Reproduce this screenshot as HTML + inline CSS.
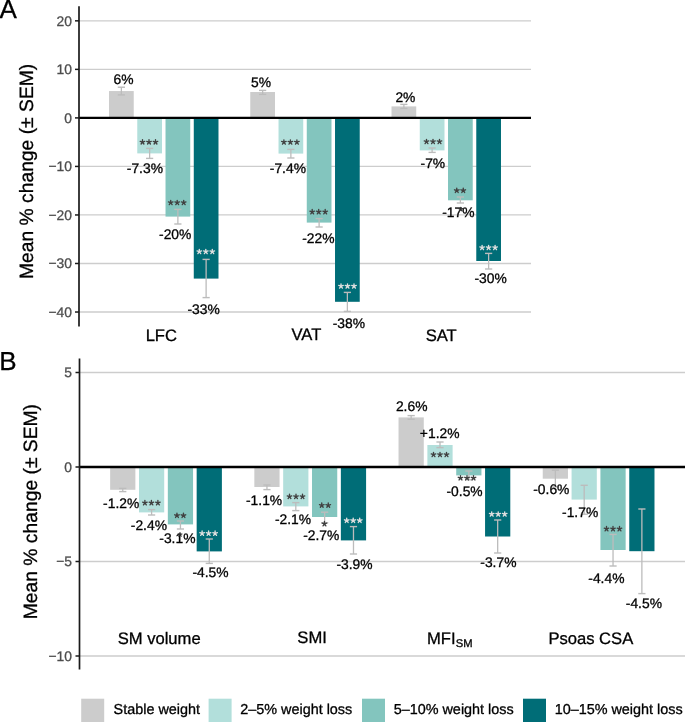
<!DOCTYPE html>
<html><head><meta charset="utf-8"><style>
html,body{margin:0;padding:0;background:#ffffff;}
svg{display:block;}
text{font-family:"Liberation Sans",sans-serif;text-rendering:geometricPrecision;}
svg{will-change:transform;}
</style></head><body>
<svg width="685" height="722" viewBox="0 0 685 722">
<rect x="0" y="0" width="685" height="722" fill="#ffffff"/>
<line x1="79.00" y1="20.84" x2="531.00" y2="20.84" stroke="#cdcdcd" stroke-width="1.3"/>
<line x1="79.00" y1="69.37" x2="531.00" y2="69.37" stroke="#cdcdcd" stroke-width="1.3"/>
<line x1="79.00" y1="166.43" x2="531.00" y2="166.43" stroke="#cdcdcd" stroke-width="1.3"/>
<line x1="79.00" y1="214.96" x2="531.00" y2="214.96" stroke="#cdcdcd" stroke-width="1.3"/>
<line x1="79.00" y1="263.49" x2="531.00" y2="263.49" stroke="#cdcdcd" stroke-width="1.3"/>
<line x1="79.00" y1="312.02" x2="531.00" y2="312.02" stroke="#cdcdcd" stroke-width="1.3"/>
<rect x="109.02" y="91.06" width="24.72" height="26.84" fill="#cccccc"/>
<rect x="137.27" y="117.90" width="24.72" height="35.50" fill="#b2dfdb"/>
<rect x="165.52" y="117.90" width="24.72" height="98.70" fill="#83c5be"/>
<rect x="193.77" y="117.90" width="24.72" height="160.70" fill="#006d77"/>
<rect x="250.27" y="92.00" width="24.72" height="25.90" fill="#cccccc"/>
<rect x="278.52" y="117.90" width="24.72" height="35.70" fill="#b2dfdb"/>
<rect x="306.77" y="117.90" width="24.72" height="104.70" fill="#83c5be"/>
<rect x="335.02" y="117.90" width="24.72" height="183.90" fill="#006d77"/>
<rect x="391.52" y="106.40" width="24.72" height="11.50" fill="#cccccc"/>
<rect x="419.77" y="117.90" width="24.72" height="32.50" fill="#b2dfdb"/>
<rect x="448.02" y="117.90" width="24.72" height="82.40" fill="#83c5be"/>
<rect x="476.27" y="117.90" width="24.72" height="143.10" fill="#006d77"/>
<line x1="121.38" y1="87.20" x2="121.38" y2="94.90" stroke="#bcbcbc" stroke-width="1.3"/>
<line x1="117.78" y1="87.20" x2="124.97" y2="87.20" stroke="#bcbcbc" stroke-width="1.4"/>
<line x1="117.78" y1="94.90" x2="124.97" y2="94.90" stroke="#bcbcbc" stroke-width="1.4"/>
<line x1="149.62" y1="148.40" x2="149.62" y2="158.40" stroke="#bcbcbc" stroke-width="1.3"/>
<line x1="146.03" y1="148.40" x2="153.22" y2="148.40" stroke="#bcbcbc" stroke-width="1.4"/>
<line x1="146.03" y1="158.40" x2="153.22" y2="158.40" stroke="#bcbcbc" stroke-width="1.4"/>
<line x1="177.88" y1="209.40" x2="177.88" y2="224.00" stroke="#bcbcbc" stroke-width="1.3"/>
<line x1="174.28" y1="209.40" x2="181.47" y2="209.40" stroke="#bcbcbc" stroke-width="1.4"/>
<line x1="174.28" y1="224.00" x2="181.47" y2="224.00" stroke="#bcbcbc" stroke-width="1.4"/>
<line x1="206.12" y1="259.40" x2="206.12" y2="297.60" stroke="#bcbcbc" stroke-width="1.3"/>
<line x1="202.53" y1="259.40" x2="209.72" y2="259.40" stroke="#bcbcbc" stroke-width="1.4"/>
<line x1="202.53" y1="297.60" x2="209.72" y2="297.60" stroke="#bcbcbc" stroke-width="1.4"/>
<line x1="262.62" y1="90.40" x2="262.62" y2="94.40" stroke="#bcbcbc" stroke-width="1.3"/>
<line x1="259.02" y1="90.40" x2="266.23" y2="90.40" stroke="#bcbcbc" stroke-width="1.4"/>
<line x1="259.02" y1="94.40" x2="266.23" y2="94.40" stroke="#bcbcbc" stroke-width="1.4"/>
<line x1="290.88" y1="149.40" x2="290.88" y2="158.00" stroke="#bcbcbc" stroke-width="1.3"/>
<line x1="287.27" y1="149.40" x2="294.48" y2="149.40" stroke="#bcbcbc" stroke-width="1.4"/>
<line x1="287.27" y1="158.00" x2="294.48" y2="158.00" stroke="#bcbcbc" stroke-width="1.4"/>
<line x1="319.12" y1="218.60" x2="319.12" y2="227.00" stroke="#bcbcbc" stroke-width="1.3"/>
<line x1="315.52" y1="218.60" x2="322.73" y2="218.60" stroke="#bcbcbc" stroke-width="1.4"/>
<line x1="315.52" y1="227.00" x2="322.73" y2="227.00" stroke="#bcbcbc" stroke-width="1.4"/>
<line x1="347.38" y1="292.40" x2="347.38" y2="311.40" stroke="#bcbcbc" stroke-width="1.3"/>
<line x1="343.77" y1="292.40" x2="350.98" y2="292.40" stroke="#bcbcbc" stroke-width="1.4"/>
<line x1="343.77" y1="311.40" x2="350.98" y2="311.40" stroke="#bcbcbc" stroke-width="1.4"/>
<line x1="403.88" y1="104.40" x2="403.88" y2="108.40" stroke="#bcbcbc" stroke-width="1.3"/>
<line x1="400.27" y1="104.40" x2="407.48" y2="104.40" stroke="#bcbcbc" stroke-width="1.4"/>
<line x1="400.27" y1="108.40" x2="407.48" y2="108.40" stroke="#bcbcbc" stroke-width="1.4"/>
<line x1="432.12" y1="148.00" x2="432.12" y2="152.40" stroke="#bcbcbc" stroke-width="1.3"/>
<line x1="428.52" y1="148.00" x2="435.73" y2="148.00" stroke="#bcbcbc" stroke-width="1.4"/>
<line x1="428.52" y1="152.40" x2="435.73" y2="152.40" stroke="#bcbcbc" stroke-width="1.4"/>
<line x1="460.38" y1="197.00" x2="460.38" y2="203.00" stroke="#bcbcbc" stroke-width="1.3"/>
<line x1="456.77" y1="197.00" x2="463.98" y2="197.00" stroke="#bcbcbc" stroke-width="1.4"/>
<line x1="456.77" y1="203.00" x2="463.98" y2="203.00" stroke="#bcbcbc" stroke-width="1.4"/>
<line x1="488.62" y1="253.40" x2="488.62" y2="269.00" stroke="#bcbcbc" stroke-width="1.3"/>
<line x1="485.02" y1="253.40" x2="492.23" y2="253.40" stroke="#bcbcbc" stroke-width="1.4"/>
<line x1="485.02" y1="269.00" x2="492.23" y2="269.00" stroke="#bcbcbc" stroke-width="1.4"/>
<line x1="79.00" y1="117.90" x2="531.00" y2="117.90" stroke="#000000" stroke-width="2.4"/>
<line x1="79.00" y1="6.30" x2="79.00" y2="326.40" stroke="#1a1a1a" stroke-width="1.7"/>
<line x1="75.00" y1="20.84" x2="79.00" y2="20.84" stroke="#1a1a1a" stroke-width="1.5"/>
<line x1="75.00" y1="69.37" x2="79.00" y2="69.37" stroke="#1a1a1a" stroke-width="1.5"/>
<line x1="75.00" y1="117.90" x2="79.00" y2="117.90" stroke="#1a1a1a" stroke-width="1.5"/>
<line x1="75.00" y1="166.43" x2="79.00" y2="166.43" stroke="#1a1a1a" stroke-width="1.5"/>
<line x1="75.00" y1="214.96" x2="79.00" y2="214.96" stroke="#1a1a1a" stroke-width="1.5"/>
<line x1="75.00" y1="263.49" x2="79.00" y2="263.49" stroke="#1a1a1a" stroke-width="1.5"/>
<line x1="75.00" y1="312.02" x2="79.00" y2="312.02" stroke="#1a1a1a" stroke-width="1.5"/>
<line x1="79.50" y1="372.50" x2="685.00" y2="372.50" stroke="#cdcdcd" stroke-width="1.3"/>
<line x1="79.50" y1="561.50" x2="685.00" y2="561.50" stroke="#cdcdcd" stroke-width="1.3"/>
<line x1="79.50" y1="656.00" x2="685.00" y2="656.00" stroke="#cdcdcd" stroke-width="1.3"/>
<rect x="110.14" y="467.00" width="25.23" height="22.80" fill="#cccccc"/>
<rect x="138.98" y="467.00" width="25.23" height="45.40" fill="#b2dfdb"/>
<rect x="167.82" y="467.00" width="25.23" height="57.40" fill="#83c5be"/>
<rect x="196.66" y="467.00" width="25.23" height="84.40" fill="#006d77"/>
<rect x="254.34" y="467.00" width="25.23" height="20.00" fill="#cccccc"/>
<rect x="283.18" y="467.00" width="25.23" height="39.40" fill="#b2dfdb"/>
<rect x="312.02" y="467.00" width="25.23" height="50.00" fill="#83c5be"/>
<rect x="340.86" y="467.00" width="25.23" height="73.40" fill="#006d77"/>
<rect x="398.54" y="417.40" width="25.23" height="49.60" fill="#cccccc"/>
<rect x="427.38" y="445.00" width="25.23" height="22.00" fill="#b2dfdb"/>
<rect x="456.22" y="467.00" width="25.23" height="8.40" fill="#83c5be"/>
<rect x="485.06" y="467.00" width="25.23" height="69.50" fill="#006d77"/>
<rect x="542.74" y="467.00" width="25.23" height="11.70" fill="#cccccc"/>
<rect x="571.58" y="467.00" width="25.23" height="32.60" fill="#b2dfdb"/>
<rect x="600.42" y="467.00" width="25.23" height="83.00" fill="#83c5be"/>
<rect x="629.26" y="467.00" width="25.23" height="84.20" fill="#006d77"/>
<line x1="122.76" y1="488.40" x2="122.76" y2="491.60" stroke="#bcbcbc" stroke-width="1.3"/>
<line x1="119.16" y1="488.40" x2="126.36" y2="488.40" stroke="#bcbcbc" stroke-width="1.4"/>
<line x1="119.16" y1="491.60" x2="126.36" y2="491.60" stroke="#bcbcbc" stroke-width="1.4"/>
<line x1="151.60" y1="509.60" x2="151.60" y2="515.00" stroke="#bcbcbc" stroke-width="1.3"/>
<line x1="148.00" y1="509.60" x2="155.20" y2="509.60" stroke="#bcbcbc" stroke-width="1.4"/>
<line x1="148.00" y1="515.00" x2="155.20" y2="515.00" stroke="#bcbcbc" stroke-width="1.4"/>
<line x1="180.44" y1="521.00" x2="180.44" y2="529.00" stroke="#bcbcbc" stroke-width="1.3"/>
<line x1="176.84" y1="521.00" x2="184.04" y2="521.00" stroke="#bcbcbc" stroke-width="1.4"/>
<line x1="176.84" y1="529.00" x2="184.04" y2="529.00" stroke="#bcbcbc" stroke-width="1.4"/>
<line x1="209.28" y1="539.00" x2="209.28" y2="563.40" stroke="#bcbcbc" stroke-width="1.3"/>
<line x1="205.68" y1="539.00" x2="212.88" y2="539.00" stroke="#bcbcbc" stroke-width="1.4"/>
<line x1="205.68" y1="563.40" x2="212.88" y2="563.40" stroke="#bcbcbc" stroke-width="1.4"/>
<line x1="266.96" y1="485.00" x2="266.96" y2="489.60" stroke="#bcbcbc" stroke-width="1.3"/>
<line x1="263.36" y1="485.00" x2="270.56" y2="485.00" stroke="#bcbcbc" stroke-width="1.4"/>
<line x1="263.36" y1="489.60" x2="270.56" y2="489.60" stroke="#bcbcbc" stroke-width="1.4"/>
<line x1="295.80" y1="502.60" x2="295.80" y2="510.60" stroke="#bcbcbc" stroke-width="1.3"/>
<line x1="292.20" y1="502.60" x2="299.40" y2="502.60" stroke="#bcbcbc" stroke-width="1.4"/>
<line x1="292.20" y1="510.60" x2="299.40" y2="510.60" stroke="#bcbcbc" stroke-width="1.4"/>
<line x1="324.64" y1="512.20" x2="324.64" y2="522.70" stroke="#bcbcbc" stroke-width="1.3"/>
<line x1="321.04" y1="512.20" x2="328.24" y2="512.20" stroke="#bcbcbc" stroke-width="1.4"/>
<line x1="321.04" y1="522.70" x2="328.24" y2="522.70" stroke="#bcbcbc" stroke-width="1.4"/>
<line x1="353.48" y1="526.60" x2="353.48" y2="554.00" stroke="#bcbcbc" stroke-width="1.3"/>
<line x1="349.88" y1="526.60" x2="357.08" y2="526.60" stroke="#bcbcbc" stroke-width="1.4"/>
<line x1="349.88" y1="554.00" x2="357.08" y2="554.00" stroke="#bcbcbc" stroke-width="1.4"/>
<line x1="411.16" y1="415.60" x2="411.16" y2="419.20" stroke="#bcbcbc" stroke-width="1.3"/>
<line x1="407.56" y1="415.60" x2="414.76" y2="415.60" stroke="#bcbcbc" stroke-width="1.4"/>
<line x1="407.56" y1="419.20" x2="414.76" y2="419.20" stroke="#bcbcbc" stroke-width="1.4"/>
<line x1="440.00" y1="442.00" x2="440.00" y2="447.60" stroke="#bcbcbc" stroke-width="1.3"/>
<line x1="436.40" y1="442.00" x2="443.60" y2="442.00" stroke="#bcbcbc" stroke-width="1.4"/>
<line x1="436.40" y1="447.60" x2="443.60" y2="447.60" stroke="#bcbcbc" stroke-width="1.4"/>
<line x1="468.84" y1="471.00" x2="468.84" y2="479.80" stroke="#bcbcbc" stroke-width="1.3"/>
<line x1="465.24" y1="471.00" x2="472.44" y2="471.00" stroke="#bcbcbc" stroke-width="1.4"/>
<line x1="465.24" y1="479.80" x2="472.44" y2="479.80" stroke="#bcbcbc" stroke-width="1.4"/>
<line x1="497.68" y1="520.00" x2="497.68" y2="553.00" stroke="#bcbcbc" stroke-width="1.3"/>
<line x1="494.08" y1="520.00" x2="501.28" y2="520.00" stroke="#bcbcbc" stroke-width="1.4"/>
<line x1="494.08" y1="553.00" x2="501.28" y2="553.00" stroke="#bcbcbc" stroke-width="1.4"/>
<line x1="555.36" y1="470.20" x2="555.36" y2="487.00" stroke="#bcbcbc" stroke-width="1.3"/>
<line x1="551.76" y1="470.20" x2="558.96" y2="470.20" stroke="#bcbcbc" stroke-width="1.4"/>
<line x1="551.76" y1="487.00" x2="558.96" y2="487.00" stroke="#bcbcbc" stroke-width="1.4"/>
<line x1="584.20" y1="485.30" x2="584.20" y2="514.20" stroke="#bcbcbc" stroke-width="1.3"/>
<line x1="580.60" y1="485.30" x2="587.80" y2="485.30" stroke="#bcbcbc" stroke-width="1.4"/>
<line x1="580.60" y1="514.20" x2="587.80" y2="514.20" stroke="#bcbcbc" stroke-width="1.4"/>
<line x1="613.04" y1="534.40" x2="613.04" y2="566.00" stroke="#bcbcbc" stroke-width="1.3"/>
<line x1="609.44" y1="534.40" x2="616.64" y2="534.40" stroke="#bcbcbc" stroke-width="1.4"/>
<line x1="609.44" y1="566.00" x2="616.64" y2="566.00" stroke="#bcbcbc" stroke-width="1.4"/>
<line x1="641.88" y1="509.00" x2="641.88" y2="593.60" stroke="#bcbcbc" stroke-width="1.3"/>
<line x1="638.28" y1="509.00" x2="645.48" y2="509.00" stroke="#bcbcbc" stroke-width="1.4"/>
<line x1="638.28" y1="593.60" x2="645.48" y2="593.60" stroke="#bcbcbc" stroke-width="1.4"/>
<line x1="79.50" y1="467.00" x2="685.00" y2="467.00" stroke="#000000" stroke-width="2.4"/>
<line x1="79.50" y1="358.60" x2="79.50" y2="669.60" stroke="#1a1a1a" stroke-width="1.7"/>
<line x1="75.50" y1="372.50" x2="79.50" y2="372.50" stroke="#1a1a1a" stroke-width="1.5"/>
<line x1="75.50" y1="467.00" x2="79.50" y2="467.00" stroke="#1a1a1a" stroke-width="1.5"/>
<line x1="75.50" y1="561.50" x2="79.50" y2="561.50" stroke="#1a1a1a" stroke-width="1.5"/>
<line x1="75.50" y1="656.00" x2="79.50" y2="656.00" stroke="#1a1a1a" stroke-width="1.5"/>
<rect x="81.20" y="698.70" width="23.00" height="23.30" fill="#cccccc"/>
<rect x="208.60" y="698.70" width="23.00" height="23.30" fill="#b2dfdb"/>
<rect x="362.00" y="698.70" width="23.00" height="23.30" fill="#83c5be"/>
<rect x="523.00" y="698.70" width="23.00" height="23.30" fill="#006d77"/>
<text x="113.56" y="84.25" font-size="13.85" fill="#000000" stroke="#000000" stroke-width="0.3">6%</text>
<text x="126.81" y="172.75" font-size="13.85" fill="#000000" stroke="#000000" stroke-width="0.3">-7.3%</text>
<text x="159.05" y="238.75" font-size="13.85" fill="#000000" stroke="#000000" stroke-width="0.3">-20%</text>
<text x="187.45" y="313.95" font-size="13.85" fill="#000000" stroke="#000000" stroke-width="0.3">-33%</text>
<text x="250.94" y="86.75" font-size="13.85" fill="#000000" stroke="#000000" stroke-width="0.3">5%</text>
<text x="269.81" y="172.75" font-size="13.85" fill="#000000" stroke="#000000" stroke-width="0.3">-7.4%</text>
<text x="302.25" y="242.95" font-size="13.85" fill="#000000" stroke="#000000" stroke-width="0.3">-22%</text>
<text x="332.65" y="327.95" font-size="13.85" fill="#000000" stroke="#000000" stroke-width="0.3">-38%</text>
<text x="395.38" y="101.95" font-size="13.85" fill="#000000" stroke="#000000" stroke-width="0.3">2%</text>
<text x="420.56" y="168.25" font-size="13.85" fill="#000000" stroke="#000000" stroke-width="0.3">-7%</text>
<text x="442.25" y="216.95" font-size="13.85" fill="#000000" stroke="#000000" stroke-width="0.3">-17%</text>
<text x="474.45" y="283.35" font-size="13.85" fill="#000000" stroke="#000000" stroke-width="0.3">-30%</text>
<text x="103.11" y="507.75" font-size="13.85" fill="#000000" stroke="#000000" stroke-width="0.3">-1.2%</text>
<text x="130.81" y="529.55" font-size="13.85" fill="#000000" stroke="#000000" stroke-width="0.3">-2.4%</text>
<text x="159.31" y="543.35" font-size="13.85" fill="#000000" stroke="#000000" stroke-width="0.3">-3.1%</text>
<text x="192.38" y="576.75" font-size="13.85" fill="#000000" stroke="#000000" stroke-width="0.3">-4.5%</text>
<text x="246.01" y="505.35" font-size="13.85" fill="#000000" stroke="#000000" stroke-width="0.3">-1.1%</text>
<text x="274.91" y="524.15" font-size="13.85" fill="#000000" stroke="#000000" stroke-width="0.3">-2.1%</text>
<text x="303.16" y="539.55" font-size="13.85" fill="#000000" stroke="#000000" stroke-width="0.3">-2.7%</text>
<text x="336.38" y="568.95" font-size="13.85" fill="#000000" stroke="#000000" stroke-width="0.3">-3.9%</text>
<text x="395.93" y="410.95" font-size="13.85" fill="#000000" stroke="#000000" stroke-width="0.3">2.6%</text>
<text x="419.86" y="437.75" font-size="13.85" fill="#000000" stroke="#000000" stroke-width="0.3">+1.2%</text>
<text x="446.51" y="496.35" font-size="13.85" fill="#000000" stroke="#000000" stroke-width="0.3">-0.5%</text>
<text x="480.31" y="566.75" font-size="13.85" fill="#000000" stroke="#000000" stroke-width="0.3">-3.7%</text>
<text x="533.26" y="494.05" font-size="13.85" fill="#000000" stroke="#000000" stroke-width="0.3">-0.6%</text>
<text x="562.06" y="517.20" font-size="13.85" fill="#000000" stroke="#000000" stroke-width="0.3">-1.7%</text>
<text x="588.31" y="583.45" font-size="13.85" fill="#000000" stroke="#000000" stroke-width="0.3">-4.4%</text>
<text x="625.81" y="607.75" font-size="13.85" fill="#000000" stroke="#000000" stroke-width="0.3">-4.5%</text>
<path d="M142.50 142.06L142.50 139.66M142.50 142.06L144.78 141.32M142.50 142.06L143.91 144.01M142.50 142.06L141.09 144.01M142.50 142.06L140.22 141.32" stroke="#404040" stroke-width="1.35" stroke-linecap="round" fill="none"/>
<path d="M149.00 142.06L149.00 139.66M149.00 142.06L151.28 141.32M149.00 142.06L150.41 144.01M149.00 142.06L147.59 144.01M149.00 142.06L146.72 141.32" stroke="#404040" stroke-width="1.35" stroke-linecap="round" fill="none"/>
<path d="M155.50 142.06L155.50 139.66M155.50 142.06L157.78 141.32M155.50 142.06L156.91 144.01M155.50 142.06L154.09 144.01M155.50 142.06L153.22 141.32" stroke="#404040" stroke-width="1.35" stroke-linecap="round" fill="none"/>
<path d="M170.70 202.71L170.70 200.31M170.70 202.71L172.98 201.97M170.70 202.71L172.11 204.66M170.70 202.71L169.29 204.66M170.70 202.71L168.42 201.97" stroke="#404040" stroke-width="1.35" stroke-linecap="round" fill="none"/>
<path d="M177.20 202.71L177.20 200.31M177.20 202.71L179.48 201.97M177.20 202.71L178.61 204.66M177.20 202.71L175.79 204.66M177.20 202.71L174.92 201.97" stroke="#404040" stroke-width="1.35" stroke-linecap="round" fill="none"/>
<path d="M183.70 202.71L183.70 200.31M183.70 202.71L185.98 201.97M183.70 202.71L185.11 204.66M183.70 202.71L182.29 204.66M183.70 202.71L181.42 201.97" stroke="#404040" stroke-width="1.35" stroke-linecap="round" fill="none"/>
<path d="M199.30 251.71L199.30 249.31M199.30 251.71L201.58 250.97M199.30 251.71L200.71 253.66M199.30 251.71L197.89 253.66M199.30 251.71L197.02 250.97" stroke="#e0e0e0" stroke-width="1.35" stroke-linecap="round" fill="none"/>
<path d="M205.80 251.71L205.80 249.31M205.80 251.71L208.08 250.97M205.80 251.71L207.21 253.66M205.80 251.71L204.39 253.66M205.80 251.71L203.52 250.97" stroke="#e0e0e0" stroke-width="1.35" stroke-linecap="round" fill="none"/>
<path d="M212.30 251.71L212.30 249.31M212.30 251.71L214.58 250.97M212.30 251.71L213.71 253.66M212.30 251.71L210.89 253.66M212.30 251.71L210.02 250.97" stroke="#e0e0e0" stroke-width="1.35" stroke-linecap="round" fill="none"/>
<path d="M283.90 142.21L283.90 139.81M283.90 142.21L286.18 141.47M283.90 142.21L285.31 144.16M283.90 142.21L282.49 144.16M283.90 142.21L281.62 141.47" stroke="#404040" stroke-width="1.35" stroke-linecap="round" fill="none"/>
<path d="M290.40 142.21L290.40 139.81M290.40 142.21L292.68 141.47M290.40 142.21L291.81 144.16M290.40 142.21L288.99 144.16M290.40 142.21L288.12 141.47" stroke="#404040" stroke-width="1.35" stroke-linecap="round" fill="none"/>
<path d="M296.90 142.21L296.90 139.81M296.90 142.21L299.18 141.47M296.90 142.21L298.31 144.16M296.90 142.21L295.49 144.16M296.90 142.21L294.62 141.47" stroke="#404040" stroke-width="1.35" stroke-linecap="round" fill="none"/>
<path d="M312.20 211.91L312.20 209.51M312.20 211.91L314.48 211.17M312.20 211.91L313.61 213.86M312.20 211.91L310.79 213.86M312.20 211.91L309.92 211.17" stroke="#404040" stroke-width="1.35" stroke-linecap="round" fill="none"/>
<path d="M318.70 211.91L318.70 209.51M318.70 211.91L320.98 211.17M318.70 211.91L320.11 213.86M318.70 211.91L317.29 213.86M318.70 211.91L316.42 211.17" stroke="#404040" stroke-width="1.35" stroke-linecap="round" fill="none"/>
<path d="M325.20 211.91L325.20 209.51M325.20 211.91L327.48 211.17M325.20 211.91L326.61 213.86M325.20 211.91L323.79 213.86M325.20 211.91L322.92 211.17" stroke="#404040" stroke-width="1.35" stroke-linecap="round" fill="none"/>
<path d="M341.00 286.21L341.00 283.81M341.00 286.21L343.28 285.47M341.00 286.21L342.41 288.16M341.00 286.21L339.59 288.16M341.00 286.21L338.72 285.47" stroke="#e0e0e0" stroke-width="1.35" stroke-linecap="round" fill="none"/>
<path d="M347.50 286.21L347.50 283.81M347.50 286.21L349.78 285.47M347.50 286.21L348.91 288.16M347.50 286.21L346.09 288.16M347.50 286.21L345.22 285.47" stroke="#e0e0e0" stroke-width="1.35" stroke-linecap="round" fill="none"/>
<path d="M354.00 286.21L354.00 283.81M354.00 286.21L356.28 285.47M354.00 286.21L355.41 288.16M354.00 286.21L352.59 288.16M354.00 286.21L351.72 285.47" stroke="#e0e0e0" stroke-width="1.35" stroke-linecap="round" fill="none"/>
<path d="M426.50 141.71L426.50 139.31M426.50 141.71L428.78 140.97M426.50 141.71L427.91 143.66M426.50 141.71L425.09 143.66M426.50 141.71L424.22 140.97" stroke="#404040" stroke-width="1.35" stroke-linecap="round" fill="none"/>
<path d="M433.00 141.71L433.00 139.31M433.00 141.71L435.28 140.97M433.00 141.71L434.41 143.66M433.00 141.71L431.59 143.66M433.00 141.71L430.72 140.97" stroke="#404040" stroke-width="1.35" stroke-linecap="round" fill="none"/>
<path d="M439.50 141.71L439.50 139.31M439.50 141.71L441.78 140.97M439.50 141.71L440.91 143.66M439.50 141.71L438.09 143.66M439.50 141.71L437.22 140.97" stroke="#404040" stroke-width="1.35" stroke-linecap="round" fill="none"/>
<path d="M456.75 190.51L456.75 188.11M456.75 190.51L459.03 189.77M456.75 190.51L458.16 192.46M456.75 190.51L455.34 192.46M456.75 190.51L454.47 189.77" stroke="#404040" stroke-width="1.35" stroke-linecap="round" fill="none"/>
<path d="M463.25 190.51L463.25 188.11M463.25 190.51L465.53 189.77M463.25 190.51L464.66 192.46M463.25 190.51L461.84 192.46M463.25 190.51L460.97 189.77" stroke="#404040" stroke-width="1.35" stroke-linecap="round" fill="none"/>
<path d="M482.10 247.71L482.10 245.31M482.10 247.71L484.38 246.97M482.10 247.71L483.51 249.66M482.10 247.71L480.69 249.66M482.10 247.71L479.82 246.97" stroke="#e0e0e0" stroke-width="1.35" stroke-linecap="round" fill="none"/>
<path d="M488.60 247.71L488.60 245.31M488.60 247.71L490.88 246.97M488.60 247.71L490.01 249.66M488.60 247.71L487.19 249.66M488.60 247.71L486.32 246.97" stroke="#e0e0e0" stroke-width="1.35" stroke-linecap="round" fill="none"/>
<path d="M495.10 247.71L495.10 245.31M495.10 247.71L497.38 246.97M495.10 247.71L496.51 249.66M495.10 247.71L493.69 249.66M495.10 247.71L492.82 246.97" stroke="#e0e0e0" stroke-width="1.35" stroke-linecap="round" fill="none"/>
<path d="M144.90 502.91L144.90 500.51M144.90 502.91L147.18 502.17M144.90 502.91L146.31 504.86M144.90 502.91L143.49 504.86M144.90 502.91L142.62 502.17" stroke="#404040" stroke-width="1.35" stroke-linecap="round" fill="none"/>
<path d="M151.40 502.91L151.40 500.51M151.40 502.91L153.68 502.17M151.40 502.91L152.81 504.86M151.40 502.91L149.99 504.86M151.40 502.91L149.12 502.17" stroke="#404040" stroke-width="1.35" stroke-linecap="round" fill="none"/>
<path d="M157.90 502.91L157.90 500.51M157.90 502.91L160.18 502.17M157.90 502.91L159.31 504.86M157.90 502.91L156.49 504.86M157.90 502.91L155.62 502.17" stroke="#404040" stroke-width="1.35" stroke-linecap="round" fill="none"/>
<path d="M176.95 515.51L176.95 513.11M176.95 515.51L179.23 514.77M176.95 515.51L178.36 517.46M176.95 515.51L175.54 517.46M176.95 515.51L174.67 514.77" stroke="#404040" stroke-width="1.35" stroke-linecap="round" fill="none"/>
<path d="M183.45 515.51L183.45 513.11M183.45 515.51L185.73 514.77M183.45 515.51L184.86 517.46M183.45 515.51L182.04 517.46M183.45 515.51L181.17 514.77" stroke="#404040" stroke-width="1.35" stroke-linecap="round" fill="none"/>
<path d="M202.10 533.41L202.10 531.01M202.10 533.41L204.38 532.67M202.10 533.41L203.51 535.36M202.10 533.41L200.69 535.36M202.10 533.41L199.82 532.67" stroke="#e0e0e0" stroke-width="1.35" stroke-linecap="round" fill="none"/>
<path d="M208.60 533.41L208.60 531.01M208.60 533.41L210.88 532.67M208.60 533.41L210.01 535.36M208.60 533.41L207.19 535.36M208.60 533.41L206.32 532.67" stroke="#e0e0e0" stroke-width="1.35" stroke-linecap="round" fill="none"/>
<path d="M215.10 533.41L215.10 531.01M215.10 533.41L217.38 532.67M215.10 533.41L216.51 535.36M215.10 533.41L213.69 535.36M215.10 533.41L212.82 532.67" stroke="#e0e0e0" stroke-width="1.35" stroke-linecap="round" fill="none"/>
<path d="M289.50 496.61L289.50 494.21M289.50 496.61L291.78 495.87M289.50 496.61L290.91 498.56M289.50 496.61L288.09 498.56M289.50 496.61L287.22 495.87" stroke="#404040" stroke-width="1.35" stroke-linecap="round" fill="none"/>
<path d="M296.00 496.61L296.00 494.21M296.00 496.61L298.28 495.87M296.00 496.61L297.41 498.56M296.00 496.61L294.59 498.56M296.00 496.61L293.72 495.87" stroke="#404040" stroke-width="1.35" stroke-linecap="round" fill="none"/>
<path d="M302.50 496.61L302.50 494.21M302.50 496.61L304.78 495.87M302.50 496.61L303.91 498.56M302.50 496.61L301.09 498.56M302.50 496.61L300.22 495.87" stroke="#404040" stroke-width="1.35" stroke-linecap="round" fill="none"/>
<path d="M321.75 505.31L321.75 502.91M321.75 505.31L324.03 504.57M321.75 505.31L323.16 507.26M321.75 505.31L320.34 507.26M321.75 505.31L319.47 504.57" stroke="#404040" stroke-width="1.35" stroke-linecap="round" fill="none"/>
<path d="M328.25 505.31L328.25 502.91M328.25 505.31L330.53 504.57M328.25 505.31L329.66 507.26M328.25 505.31L326.84 507.26M328.25 505.31L325.97 504.57" stroke="#404040" stroke-width="1.35" stroke-linecap="round" fill="none"/>
<path d="M324.45 523.91L324.45 521.51M324.45 523.91L326.73 523.17M324.45 523.91L325.86 525.86M324.45 523.91L323.04 525.86M324.45 523.91L322.17 523.17" stroke="#404040" stroke-width="1.35" stroke-linecap="round" fill="none"/>
<path d="M346.70 520.51L346.70 518.11M346.70 520.51L348.98 519.77M346.70 520.51L348.11 522.46M346.70 520.51L345.29 522.46M346.70 520.51L344.42 519.77" stroke="#e0e0e0" stroke-width="1.35" stroke-linecap="round" fill="none"/>
<path d="M353.20 520.51L353.20 518.11M353.20 520.51L355.48 519.77M353.20 520.51L354.61 522.46M353.20 520.51L351.79 522.46M353.20 520.51L350.92 519.77" stroke="#e0e0e0" stroke-width="1.35" stroke-linecap="round" fill="none"/>
<path d="M359.70 520.51L359.70 518.11M359.70 520.51L361.98 519.77M359.70 520.51L361.11 522.46M359.70 520.51L358.29 522.46M359.70 520.51L357.42 519.77" stroke="#e0e0e0" stroke-width="1.35" stroke-linecap="round" fill="none"/>
<path d="M433.50 454.71L433.50 452.31M433.50 454.71L435.78 453.97M433.50 454.71L434.91 456.66M433.50 454.71L432.09 456.66M433.50 454.71L431.22 453.97" stroke="#404040" stroke-width="1.35" stroke-linecap="round" fill="none"/>
<path d="M440.00 454.71L440.00 452.31M440.00 454.71L442.28 453.97M440.00 454.71L441.41 456.66M440.00 454.71L438.59 456.66M440.00 454.71L437.72 453.97" stroke="#404040" stroke-width="1.35" stroke-linecap="round" fill="none"/>
<path d="M446.50 454.71L446.50 452.31M446.50 454.71L448.78 453.97M446.50 454.71L447.91 456.66M446.50 454.71L445.09 456.66M446.50 454.71L444.22 453.97" stroke="#404040" stroke-width="1.35" stroke-linecap="round" fill="none"/>
<path d="M460.50 478.01L460.50 475.61M460.50 478.01L462.78 477.27M460.50 478.01L461.91 479.96M460.50 478.01L459.09 479.96M460.50 478.01L458.22 477.27" stroke="#404040" stroke-width="1.35" stroke-linecap="round" fill="none"/>
<path d="M467.00 478.01L467.00 475.61M467.00 478.01L469.28 477.27M467.00 478.01L468.41 479.96M467.00 478.01L465.59 479.96M467.00 478.01L464.72 477.27" stroke="#404040" stroke-width="1.35" stroke-linecap="round" fill="none"/>
<path d="M473.50 478.01L473.50 475.61M473.50 478.01L475.78 477.27M473.50 478.01L474.91 479.96M473.50 478.01L472.09 479.96M473.50 478.01L471.22 477.27" stroke="#404040" stroke-width="1.35" stroke-linecap="round" fill="none"/>
<path d="M491.70 514.21L491.70 511.81M491.70 514.21L493.98 513.47M491.70 514.21L493.11 516.16M491.70 514.21L490.29 516.16M491.70 514.21L489.42 513.47" stroke="#e0e0e0" stroke-width="1.35" stroke-linecap="round" fill="none"/>
<path d="M498.20 514.21L498.20 511.81M498.20 514.21L500.48 513.47M498.20 514.21L499.61 516.16M498.20 514.21L496.79 516.16M498.20 514.21L495.92 513.47" stroke="#e0e0e0" stroke-width="1.35" stroke-linecap="round" fill="none"/>
<path d="M504.70 514.21L504.70 511.81M504.70 514.21L506.98 513.47M504.70 514.21L506.11 516.16M504.70 514.21L503.29 516.16M504.70 514.21L502.42 513.47" stroke="#e0e0e0" stroke-width="1.35" stroke-linecap="round" fill="none"/>
<path d="M606.50 528.91L606.50 526.51M606.50 528.91L608.78 528.17M606.50 528.91L607.91 530.86M606.50 528.91L605.09 530.86M606.50 528.91L604.22 528.17" stroke="#404040" stroke-width="1.35" stroke-linecap="round" fill="none"/>
<path d="M613.00 528.91L613.00 526.51M613.00 528.91L615.28 528.17M613.00 528.91L614.41 530.86M613.00 528.91L611.59 530.86M613.00 528.91L610.72 528.17" stroke="#404040" stroke-width="1.35" stroke-linecap="round" fill="none"/>
<path d="M619.50 528.91L619.50 526.51M619.50 528.91L621.78 528.17M619.50 528.91L620.91 530.86M619.50 528.91L618.09 530.86M619.50 528.91L617.22 528.17" stroke="#404040" stroke-width="1.35" stroke-linecap="round" fill="none"/>
<path d="M180.00 534.60L180.00 532.60M180.00 534.60L181.90 533.98M180.00 534.60L181.18 536.22M180.00 534.60L178.82 536.22M180.00 534.60L178.10 533.98" stroke="#303030" stroke-width="1.2" stroke-linecap="round" fill="none"/>
<path d="M460.80 209.30L460.80 207.30M460.80 209.30L462.70 208.68M460.80 209.30L461.98 210.92M460.80 209.30L459.62 210.92M460.80 209.30L458.90 208.68" stroke="#303030" stroke-width="1.2" stroke-linecap="round" fill="none"/>
<text x="145.64" y="340.75" font-size="16.6" fill="#000000" stroke="#000000" stroke-width="0.3">LFC</text>
<text x="291.49" y="340.05" font-size="16.6" fill="#000000" stroke="#000000" stroke-width="0.3">VAT</text>
<text x="425.65" y="340.55" font-size="16.6" fill="#000000" stroke="#000000" stroke-width="0.3">SAT</text>
<text x="117.64" y="644.14" font-size="16.6" fill="#000000" stroke="#000000" stroke-width="0.3">SM volume</text>
<text x="297.36" y="643.35" font-size="16.6" fill="#000000" stroke="#000000" stroke-width="0.3">SMI</text>
<text x="548.38" y="643.75" font-size="16.6" fill="#000000" stroke="#000000" stroke-width="0.3">Psoas CSA</text>
<text x="427.05" y="643.95" font-size="16.6" fill="#000000" stroke="#000000" stroke-width="0.3">MFI</text>
<text x="455.75" y="646.88" font-size="11.2" fill="#000000" stroke="#000000" stroke-width="0.3">SM</text>
<text x="56.53" y="25.59" font-size="13.85" fill="#4d4d4d" stroke="#4d4d4d" stroke-width="0.3">20</text>
<text x="56.53" y="74.12" font-size="13.85" fill="#4d4d4d" stroke="#4d4d4d" stroke-width="0.3">10</text>
<text x="64.28" y="122.65" font-size="13.85" fill="#4d4d4d" stroke="#4d4d4d" stroke-width="0.3">0</text>
<text x="48.40" y="171.18" font-size="13.85" fill="#4d4d4d" stroke="#4d4d4d" stroke-width="0.3">−10</text>
<text x="48.40" y="219.71" font-size="13.85" fill="#4d4d4d" stroke="#4d4d4d" stroke-width="0.3">−20</text>
<text x="48.40" y="268.24" font-size="13.85" fill="#4d4d4d" stroke="#4d4d4d" stroke-width="0.3">−30</text>
<text x="48.40" y="316.77" font-size="13.85" fill="#4d4d4d" stroke="#4d4d4d" stroke-width="0.3">−40</text>
<text x="64.28" y="377.19" font-size="13.85" fill="#4d4d4d" stroke="#4d4d4d" stroke-width="0.3">5</text>
<text x="64.28" y="471.75" font-size="13.85" fill="#4d4d4d" stroke="#4d4d4d" stroke-width="0.3">0</text>
<text x="56.15" y="566.19" font-size="13.85" fill="#4d4d4d" stroke="#4d4d4d" stroke-width="0.3">−5</text>
<text x="48.40" y="660.75" font-size="13.85" fill="#4d4d4d" stroke="#4d4d4d" stroke-width="0.3">−10</text>
<text x="-0.54" y="17.70" font-size="26" fill="#000000" stroke="#000000" stroke-width="0.3">A</text>
<text x="-0.76" y="369.84" font-size="26" fill="#000000" stroke="#000000" stroke-width="0.3">B</text>
<text x="113.58" y="714.38" font-size="14.4" fill="#000000" stroke="#000000" stroke-width="0.3">Stable weight</text>
<text x="240.25" y="714.38" font-size="14.4" fill="#000000" stroke="#000000" stroke-width="0.3">2–5% weight loss</text>
<text x="393.68" y="714.38" font-size="14.4" fill="#000000" stroke="#000000" stroke-width="0.3">5–10% weight loss</text>
<text x="554.67" y="714.38" font-size="14.4" fill="#000000" stroke="#000000" stroke-width="0.3">10–15% weight loss</text>
<text transform="translate(33.00,279.04) rotate(-90)" font-size="19.3" fill="#000000" stroke="#000000" stroke-width="0.3">Mean % change (± SEM)</text>
<text transform="translate(36.60,619.24) rotate(-90)" font-size="19.3" fill="#000000" stroke="#000000" stroke-width="0.3">Mean % change (± SEM)</text>
</svg>
</body></html>
